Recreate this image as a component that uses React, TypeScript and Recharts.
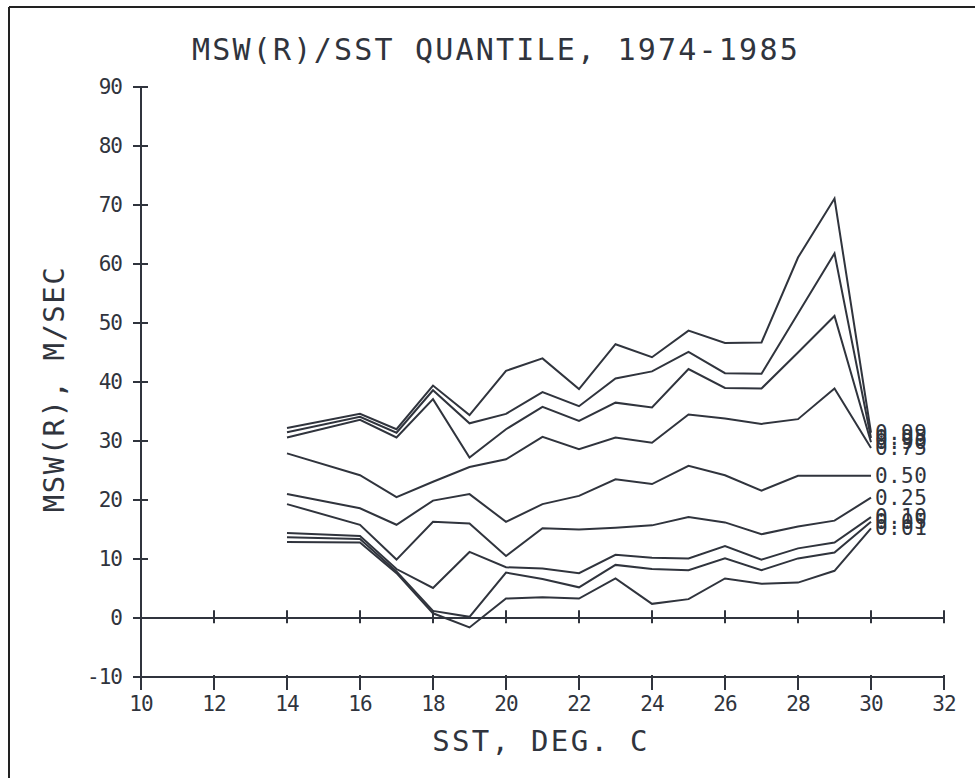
import { LineChart, Line, XAxis, YAxis, ReferenceLine } from "recharts";

// SST bins (deg C) and the wind-speed quantiles
const SST = [14, 16, 17, 18, 19, 20, 21, 22, 23, 24, 25, 26, 27, 28, 29, 30];
const Q99 = [32.2, 34.6, 32.0, 39.4, 34.4, 41.9, 44.0, 38.8, 46.4, 44.2, 48.7, 46.6, 46.7, 61.1, 71.1, 31.4];
const Q95 = [31.5, 34.1, 31.4, 38.6, 33.0, 34.6, 38.3, 35.9, 40.6, 41.8, 45.1, 41.5, 41.4, 51.6, 61.8, 30.5];
const Q90 = [30.6, 33.6, 30.6, 37.1, 27.2, 32.0, 35.8, 33.4, 36.5, 35.7, 42.2, 39.0, 38.9, 45.0, 51.2, 29.8];
const Q75 = [27.9, 24.2, 20.5, 23.1, 25.6, 26.9, 30.7, 28.6, 30.6, 29.7, 34.5, 33.8, 32.9, 33.7, 38.9, 28.8];
const Q50 = [21.0, 18.6, 15.8, 19.9, 21.0, 16.3, 19.3, 20.7, 23.5, 22.7, 25.8, 24.2, 21.6, 24.1, 24.1, 24.1];
const Q25 = [19.3, 15.8, 9.9, 16.3, 16.0, 10.5, 15.2, 15.0, 15.3, 15.7, 17.1, 16.2, 14.2, 15.5, 16.5, 20.4];
const Q10 = [14.4, 13.9, 8.3, 5.1, 11.2, 8.6, 8.4, 7.6, 10.7, 10.2, 10.1, 12.2, 9.9, 11.8, 12.8, 17.1];
const Q05 = [13.7, 13.4, 7.9, 1.2, 0.2, 7.7, 6.6, 5.2, 9.0, 8.3, 8.1, 10.1, 8.1, 10.1, 11.1, 16.3];
const Q01 = [12.9, 12.8, 7.6, 0.8, -1.6, 3.3, 3.5, 3.3, 6.7, 2.4, 3.2, 6.7, 5.8, 6.0, 8.0, 15.2];

const X_TICKS = [10, 12, 14, 16, 18, 20, 22, 24, 26, 28, 30, 32];
const ZERO_TICKS = [12, 14, 16, 18, 20, 22, 24, 26, 28, 30, 32];
const Y_TICKS = [-10, 0, 10, 20, 30, 40, 50, 60, 70, 80, 90];

const SERIES = [
  { key: "q01", label: "0.01", values: Q01 },
  { key: "q05", label: "0.05", values: Q05 },
  { key: "q10", label: "0.10", values: Q10 },
  { key: "q25", label: "0.25", values: Q25 },
  { key: "q50", label: "0.50", values: Q50 },
  { key: "q99", label: "0.99", values: Q99 },
  { key: "q95", label: "0.95", values: Q95 },
  { key: "q90", label: "0.90", values: Q90 },
  { key: "q75", label: "0.75", values: Q75 },
];

const data = SST.map((sst, i) => {
  const row: Record<string, number> = { sst };
  SERIES.forEach((s) => (row[s.key] = s.values[i]));
  return row;
});

const INK = "#30343d";
const FONT = "'DejaVu Sans Mono', monospace";

const YTick = ({ x, y, payload }: any) => (
  <g>
    <line x1={x - 8} x2={x + 7} y1={y} y2={y} stroke={INK} strokeWidth={2} />
    <text x={x - 19} y={y} textAnchor="end" dominantBaseline="central" fontFamily={FONT} fontSize={21} letterSpacing={-1} fill={INK}>
      {payload.value}
    </text>
  </g>
);

const XTick = ({ x, y, payload }: any) => (
  <g>
    <line x1={x} x2={x} y1={y - 2} y2={y + 13} stroke={INK} strokeWidth={2} />
    <text x={x} y={y + 34} textAnchor="middle" fontFamily={FONT} fontSize={21} letterSpacing={-1} fill={INK}>
      {payload.value}
    </text>
  </g>
);

const endLabel = (text: string) => (p: any) =>
  p.index === SST.length - 1 ? (
    <text key={text} x={p.x + 4} y={p.y} dominantBaseline="central" fontFamily={FONT} fontSize={21} letterSpacing={0.4} fill={INK}>
      {text}
    </text>
  ) : (
    <g key={`${text}-${p.index}`} />
  );

export default function App() {
  return (
    <div style={{ position: "absolute", left: 0, top: 0, width: 980, height: 778, background: "#fff" }}>
      <LineChart width={980} height={778} data={data} margin={{ top: 87, right: 36, bottom: 41, left: 81 }}>
        <XAxis
          dataKey="sst"
          type="number"
          domain={[10, 32]}
          ticks={X_TICKS}
          height={60}
          tickSize={0}
          tickMargin={0}
          tickLine={false}
          tick={<XTick />}
          axisLine={{ stroke: INK, strokeWidth: 2 }}
          interval={0}
        />
        <YAxis
          type="number"
          domain={[-10, 90]}
          ticks={Y_TICKS}
          width={60}
          tickSize={0}
          tickMargin={0}
          tickLine={false}
          tick={<YTick />}
          axisLine={{ stroke: INK, strokeWidth: 2 }}
          interval={0}
        />
        <ReferenceLine y={0} stroke={INK} strokeWidth={2} />
        {ZERO_TICKS.map((t) => (
          <ReferenceLine
            key={t}
            segment={[
              { x: t, y: -0.9 },
              { x: t, y: 1.3 },
            ]}
            stroke={INK}
            strokeWidth={2}
          />
        ))}
        {SERIES.map((s) => (
          <Line
            key={s.key}
            type="linear"
            dataKey={s.key}
            stroke={INK}
            strokeWidth={2}
            dot={false}
            isAnimationActive={false}
            label={endLabel(s.label)}
          />
        ))}
      </LineChart>
      <svg width={980} height={778} style={{ position: "absolute", left: 0, top: 0, pointerEvents: "none" }}>
        <line x1={9} x2={975} y1={7} y2={7} stroke="#222" strokeWidth={2} />
        <line x1={9} x2={9} y1={7} y2={778} stroke="#222" strokeWidth={2} />
        <text x={496} y={60} textAnchor="middle" fontFamily={FONT} fontSize={30} letterSpacing={2.2} fill={INK}>
          MSW(R)/SST QUANTILE, 1974-1985
        </text>
        <text x={541} y={751} textAnchor="middle" fontFamily={FONT} fontSize={29} letterSpacing={2.3} fill={INK}>
          SST, DEG. C
        </text>
        <text
          x={64}
          y={389}
          textAnchor="middle"
          transform="rotate(-90 64 389)"
          fontFamily={FONT}
          fontSize={29}
          letterSpacing={1.5}
          fill={INK}
        >
          MSW(R), M/SEC
        </text>
      </svg>
    </div>
  );
}
